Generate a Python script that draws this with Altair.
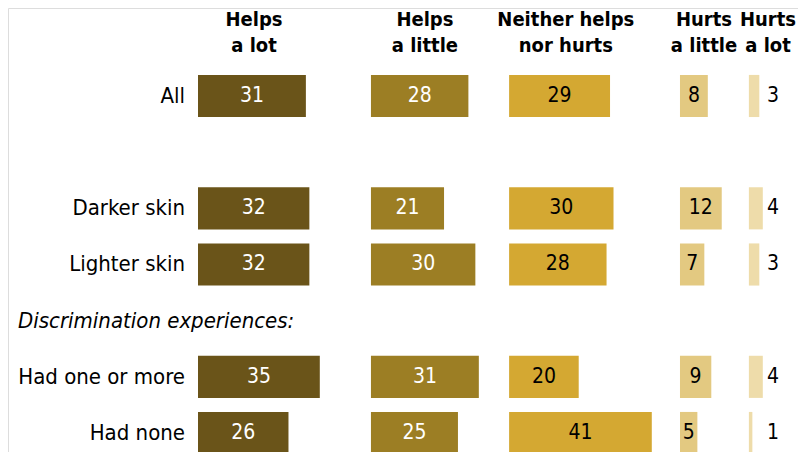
import altair as alt
import pandas as pd

rows = ["All", "Darker skin", "Lighter skin", "Had one or more", "Had none"]
row_order = ["All", "gap", "Darker skin", "Lighter skin", "hdr", "Had one or more", "Had none"]
cats = ["Helps a lot", "Helps a little", "Neither helps nor hurts", "Hurts a little", "Hurts a lot"]
cat_titles = [["Helps", "a lot"], ["Helps", "a little"], ["Neither helps", "nor hurts"],
              ["Hurts", "a little"], ["Hurts", "a lot"]]
helps_a_lot = [31, 32, 32, 35, 26]
helps_a_little = [28, 21, 30, 31, 25]
neither = [29, 30, 28, 20, 41]
hurts_a_little = [8, 12, 7, 9, 5]
hurts_a_lot = [3, 4, 3, 4, 1]
colors = ["#6a5419", "#9c7e24", "#d4a832", "#e3c981", "#eedcaa"]
text_colors = ["white", "white", "black", "black", "black"]

# layout: start of each column on the shared value scale
offsets = [0, 49.7, 89.4, 138.5, 158.3]
header_x = [16.1, 65.2, 105.7, 145.4, 163.8]
PXU = 3.48
W = 790
FONT = "'DejaVu Sans Condensed', 'Liberation Sans', sans-serif"

series = [helps_a_lot, helps_a_little, neither, hurts_a_little, hurts_a_lot]
recs = []
for ci, (c, vals) in enumerate(zip(cats, series)):
    for r, v in zip(rows, vals):
        off = offsets[ci]
        if ci < 4:
            lx = off + v / 2
        else:
            lx = off + 5.2
        recs.append(dict(row=r, cat=c, value=v, x0=off, x1=off + v, lx=lx,
                         tcolor=text_colors[ci], align="center" if ci < 4 else "left"))
df = pd.DataFrame(recs)

xscale = alt.Scale(domain=[-190 / PXU, (W - 190) / PXU], nice=False, zero=False)
yscale = alt.Scale(domain=row_order, range=[59.9, 59.9 + 7 * 56.17],
                   paddingInner=0.25, paddingOuter=0.125)

base = alt.Chart(df)
bars = base.mark_bar(cornerRadius=0).encode(
    x=alt.X("x0:Q", scale=xscale, axis=None),
    x2="x1:Q",
    y=alt.Y("row:N", scale=yscale, axis=None),
    color=alt.Color("cat:N", scale=alt.Scale(domain=cats, range=colors), legend=None),
)

vlabels_c = base.transform_filter("datum.align == 'center'").mark_text(
    font=FONT, fontSize=21, align="center", baseline="middle"
).encode(
    x=alt.X("lx:Q", scale=xscale),
    y=alt.Y("row:N", scale=yscale),
    text="value:Q",
    color=alt.Color("tcolor:N", scale=None),
)
vlabels_l = base.transform_filter("datum.align == 'left'").mark_text(
    font=FONT, fontSize=21, align="left", baseline="middle"
).encode(
    x=alt.X("lx:Q", scale=xscale),
    y=alt.Y("row:N", scale=yscale),
    text="value:Q",
    color=alt.value("black"),
)

rl = pd.DataFrame({"row": rows})
row_labels = alt.Chart(rl).mark_text(
    font=FONT, fontSize=22, align="right", baseline="middle", color="black"
).encode(
    x=alt.value(177),
    y=alt.Y("row:N", scale=yscale),
    text="row:N",
)

hdr = pd.DataFrame({"row": ["hdr"], "t": ["Discrimination experiences:"]})
hdr_label = alt.Chart(hdr).mark_text(
    font=FONT, fontSize=22, fontStyle="italic", align="left", baseline="middle", color="black"
).encode(
    x=alt.value(10),
    y=alt.Y("row:N", scale=yscale),
    text="t:N",
)

ch = pd.DataFrame({"cat": cats, "hx": header_x, "t": cat_titles})
col_heads = alt.Chart(ch).mark_text(
    font=FONT, fontSize=20, fontWeight="bold", align="center", baseline="middle",
    lineHeight=26, color="black"
).encode(
    x=alt.X("hx:Q", scale=xscale),
    y=alt.value(12),
    text="t",
)

chart = alt.layer(bars, vlabels_c, vlabels_l, row_labels, hdr_label, col_heads).properties(
    width=W, height=444, autosize=alt.AutoSizeParams(type="none"), padding=0
).configure_view(stroke=None).configure(background="white")

chart.save("out.html", embed_options={"renderer": "svg", "actions": False})
